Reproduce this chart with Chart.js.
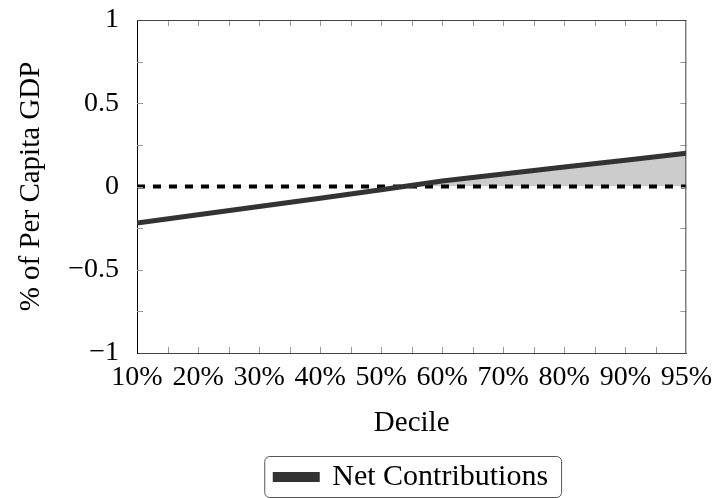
<!DOCTYPE html>
<html>
<head>
<meta charset="utf-8">
<script src="https://cdn.jsdelivr.net/npm/chart.js@4/dist/chart.umd.min.js"></script>
<style>
  html, body { margin: 0; padding: 0; background: #fff; }
  #wrap { width: 712px; height: 498px; }
</style>
</head>
<body>
<div id="wrap"><canvas id="myChart" width="712" height="498"></canvas></div>
<script>
const decileLabels = ["10%", "20%", "30%", "40%", "50%", "60%", "70%", "80%", "90%", "95%"];
const netContributions = [-0.22, -0.17, -0.12, -0.07, -0.02, 0.033, 0.075, 0.117, 0.158, 0.2];
const zeroLine = [0, 0, 0, 0, 0, 0, 0, 0, 0, 0];
const yTicks = [-1, -0.5, 0, 0.5, 1];

const serif = "'Liberation Serif', 'DejaVu Serif', serif";

// small inward ticks + top/right frame + box round the legend
const framePlugin = {
  id: "frame",
  afterDraw(chart) {
    const ctx = chart.ctx;
    const a = chart.chartArea;
    const xs = chart.scales.x;
    const ys = chart.scales.y;
    ctx.save();
    ctx.strokeStyle = "#999";
    ctx.lineWidth = 1;
    ctx.beginPath();
    for (let v = 0.5; v < 9; v += 0.5) {
      const px = Math.round(xs.getPixelForValue(v)) + 0.5;
      ctx.moveTo(px, a.bottom);
      ctx.lineTo(px, a.bottom - 6);
      ctx.moveTo(px, a.top);
      ctx.lineTo(px, a.top + 6);
    }
    for (let v = -0.75; v < 1; v += 0.25) {
      const py = Math.round(ys.getPixelForValue(v)) + 0.5;
      ctx.moveTo(a.left, py);
      ctx.lineTo(a.left + 6, py);
      ctx.moveTo(a.right, py);
      ctx.lineTo(a.right - 6, py);
    }
    ctx.stroke();

    ctx.strokeStyle = "#444";
    ctx.beginPath();
    ctx.moveTo(a.left, a.top + 0.5);
    ctx.lineTo(a.right, a.top + 0.5);
    ctx.moveTo(a.right - 0.5, a.top);
    ctx.lineTo(a.right - 0.5, a.bottom);
    ctx.stroke();

    const hb = chart.legend.legendHitBoxes[0];
    if (hb) {
      ctx.strokeStyle = "#555";
      ctx.beginPath();
      ctx.roundRect(hb.left - 10.5, hb.top - 5.5, hb.width + 24, hb.height + 11, 5);
      ctx.stroke();
    }
    ctx.restore();
  },
};

const ctx = document.getElementById("myChart");

new Chart(ctx, {
  type: "line",
  data: {
    labels: decileLabels,
    datasets: [
      {
        label: "Net Contributions",
        data: netContributions.map((v, i) => ({ x: i, y: v })),
        borderColor: "#333333",
        backgroundColor: "#333333",
        borderWidth: 5,
        pointRadius: 0,
        tension: 0,
        fill: { target: { value: 0 }, above: "#cccccc", below: "rgba(0,0,0,0)" },
      },
      {
        label: "zero",
        data: zeroLine.map((v, i) => ({ x: i, y: v })),
        borderColor: "#000000",
        borderWidth: 4,
        borderDash: [8, 8],
        pointRadius: 0,
        fill: false,
      },
    ],
  },
  options: {
    responsive: false,
    animation: false,
    layout: { padding: { left: 8, right: 2, top: 20, bottom: -4 } },
    plugins: {
      filler: { drawTime: "beforeDatasetsDraw" },
      tooltip: { enabled: false },
      legend: {
        position: "bottom",
        fullSize: false,
        labels: {
          filter: (item) => item.text !== "zero",
          font: { family: serif, size: 30 },
          color: "#000",
          boxWidth: 42,
          boxHeight: 5,
          padding: 8,
        },
      },
    },
    scales: {
      x: {
        type: "linear",
        min: 0,
        max: 9,
        grid: { display: false },
        border: { color: "#444", width: 1 },
        afterFit: (scale) => {
          scale.height = 101;
        },
        ticks: {
          stepSize: 1,
          autoSkip: false,
          maxRotation: 0,
          padding: 0,
          color: "#000",
          font: { family: serif, size: 28 },
          callback: (value) => decileLabels[value],
        },
        title: {
          display: true,
          text: "Decile",
          color: "#000",
          font: { family: serif, size: 29 },
          padding: { top: 0, bottom: 13 },
        },
      },
      y: {
        min: -1,
        max: 1,
        grid: { display: false },
        border: { color: "#000", width: 1 },
        afterFit: (scale) => {
          scale.width = 129;
          scale.paddingTop = 0;
          scale.paddingBottom = 0;
        },
        afterBuildTicks: (scale) => {
          scale.ticks = yTicks.map((v) => ({ value: v }));
        },
        ticks: {
          padding: 10,
          color: "#000",
          font: { family: serif, size: 28 },
          callback: (value) => (value < 0 ? "\u2212" + Math.abs(value) : String(value)),
        },
        title: {
          display: true,
          text: "% of Per Capita GDP",
          color: "#000",
          font: { family: serif, size: 29 },
          padding: { top: 6, bottom: 0 },
        },
      },
    },
  },
  plugins: [framePlugin],
});
</script>
</body>
</html>
